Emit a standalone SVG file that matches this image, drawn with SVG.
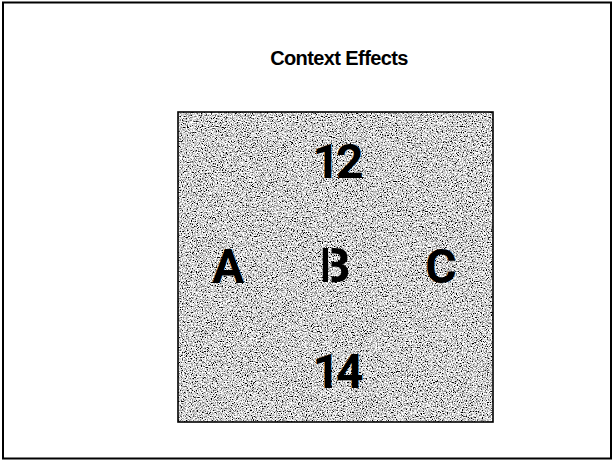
<svg xmlns="http://www.w3.org/2000/svg" width="614" height="461" viewBox="0 0 614 461">
  <style>
    .title { font-family: "Liberation Sans", Arial, sans-serif; font-weight: bold; font-size: 20px; fill: #000; letter-spacing: -0.6px; }
    .glyph { font-family: Roboto, "Liberation Sans", sans-serif; font-weight: bold; font-size: 48px; fill: #000; }
  </style>
  <defs>
    <filter id="speckle" x="0" y="0" width="100%" height="100%" filterUnits="objectBoundingBox">
      <feTurbulence type="fractalNoise" baseFrequency="0.8" numOctaves="2" seed="7" result="n"/>
      <feComponentTransfer in="n" result="g">
        <feFuncR type="linear" slope="3.2" intercept="-0.95"/>
        <feFuncG type="linear" slope="3.2" intercept="-0.95"/>
        <feFuncB type="linear" slope="3.2" intercept="-0.95"/>
        <feFuncA type="linear" slope="0" intercept="1"/>
      </feComponentTransfer>
      <feColorMatrix in="g" type="matrix" values="1 0 0 0 0  1 0 0 0 0  1 0 0 0 0  0 0 0 0 1"/>
    </filter>
    <mask id="gapB" maskUnits="userSpaceOnUse" x="300" y="230" width="80" height="70">
      <rect x="300" y="230" width="80" height="70" fill="#fff"/>
      <rect x="328" y="240" width="3.5" height="50" fill="#000"/>
    </mask>
  </defs>

  <rect id="frame" x="3" y="2.5" width="608" height="456" fill="#fff" stroke="#000" stroke-width="2"/>

  <g id="title">
    <text class="title" x="339" y="65" text-anchor="middle">Context Effects</text>
  </g>

  <g id="panel">
    <rect x="178" y="112" width="315" height="310" fill="#b0b0b0" filter="url(#speckle)"/>
    <rect x="178" y="112" width="315" height="310" fill="none" stroke="#000" stroke-width="1.6"/>
  </g>

  <g id="n12">
    <text class="glyph" x="336" y="178" text-anchor="middle" letter-spacing="-4">12</text>
  </g>
  <g id="nA">
    <text class="glyph" x="228" y="283" text-anchor="middle">A</text>
  </g>
  <g id="nB">
    <text class="glyph" x="335" y="282" text-anchor="middle" mask="url(#gapB)">B</text>
  </g>
  <g id="nC">
    <text class="glyph" x="441" y="283" text-anchor="middle">C</text>
  </g>
  <g id="n14">
    <text class="glyph" x="336" y="388" text-anchor="middle" letter-spacing="-4">14</text>
  </g>
  <g id="connectors"/>
</svg>
